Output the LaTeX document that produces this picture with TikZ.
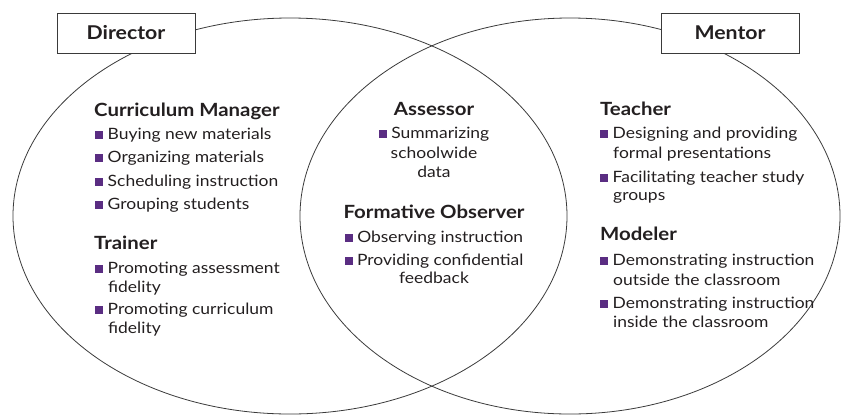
\documentclass[tikz,border=0pt]{standalone}
\usepackage{fontspec}
\setmainfont{Lato}[FakeStretch=1.12]
\definecolor{inkgray}{HTML}{231F20}
\definecolor{linegray}{HTML}{3A3A3A}
\definecolor{bulletpurple}{HTML}{5A2D82}
\newcommand{\bul}{{\color{bulletpurple}\rule{8pt}{8pt}}\hspace{4.5pt}}
\tikzset{
  ring/.style={draw=linegray, line width=0.8pt},
  rolebox/.style={draw=linegray, line width=1pt, fill=white, minimum width=138pt,
    minimum height=40pt, inner sep=0pt, font=\fontsize{19}{22}\selectfont\bfseries, text=inkgray},
  head/.style={anchor=base west, inner sep=0pt, font=\fontsize{18.2}{20}\selectfont\bfseries, text=inkgray},
  item/.style={anchor=base west, inner sep=0pt, font=\fontsize{15.6}{19}\selectfont, text=inkgray},
  chead/.style={head, anchor=base},
  citem/.style={item, anchor=base}
}
\begin{document}
\begin{tikzpicture}[x=1pt, y=-1pt]
\useasboundingbox (0,0) rectangle (843,416);

% the two overlapping role circles
\draw[ring] (290,216) ellipse [x radius=277, y radius=198];
\draw[ring] (570,216) ellipse [x radius=270, y radius=198];

% role labels on top of the circles
\node[rolebox] (director) at (126,33) {Director};
\node[rolebox] (mentor) at (730,33) {Mentor};

% Director side
\node[head] (cm) at (94,116) {Curriculum Manager};
\node[item] (cm1) at (95,139) {\bul Buying new materials};
\node[item] (cm2) at (95,162) {\bul Organizing materials};
\node[item] (cm3) at (95,186) {\bul Scheduling instruction};
\node[item] (cm4) at (95,209) {\bul Grouping students};

\node[head] (tr) at (94,249) {Trainer};
\node[item] (tr1) at (95,273) {\bul Promoting assessment};
\node[item] (tr1b) at (108,292) {fidelity};
\node[item] (tr2) at (95,314) {\bul Promoting curriculum};
\node[item] (tr2b) at (108,333) {fidelity};

% shared roles
\node[chead] (as) at (434,115) {Assessor};
\node[citem] (as1) at (434,138) {\bul Summarizing};
\node[citem] (as1b) at (434,158) {schoolwide};
\node[citem] (as1c) at (434,177) {data};

\node[chead] (fo) at (434,218) {Formative Observer};
\node[citem] (fo1) at (434,242) {\bul Observing instruction};
\node[citem] (fo2) at (434,265) {\bul Providing confidential};
\node[citem] (fo2b) at (434,283) {feedback};

% Mentor side
\node[head] (te) at (600,115) {Teacher};
\node[item] (te1) at (600,138) {\bul Designing and providing};
\node[item] (te1b) at (613,158) {formal presentations};
\node[item] (te2) at (600,182) {\bul Facilitating teacher study};
\node[item] (te2b) at (613,200) {groups};

\node[head] (mo) at (600,240) {Modeler};
\node[item] (mo1) at (600,265) {\bul Demonstrating instruction};
\node[item] (mo1b) at (613,285) {outside the classroom};
\node[item] (mo2) at (600,308) {\bul Demonstrating instruction};
\node[item] (mo2b) at (613,327) {inside the classroom};
\end{tikzpicture}
\end{document}
